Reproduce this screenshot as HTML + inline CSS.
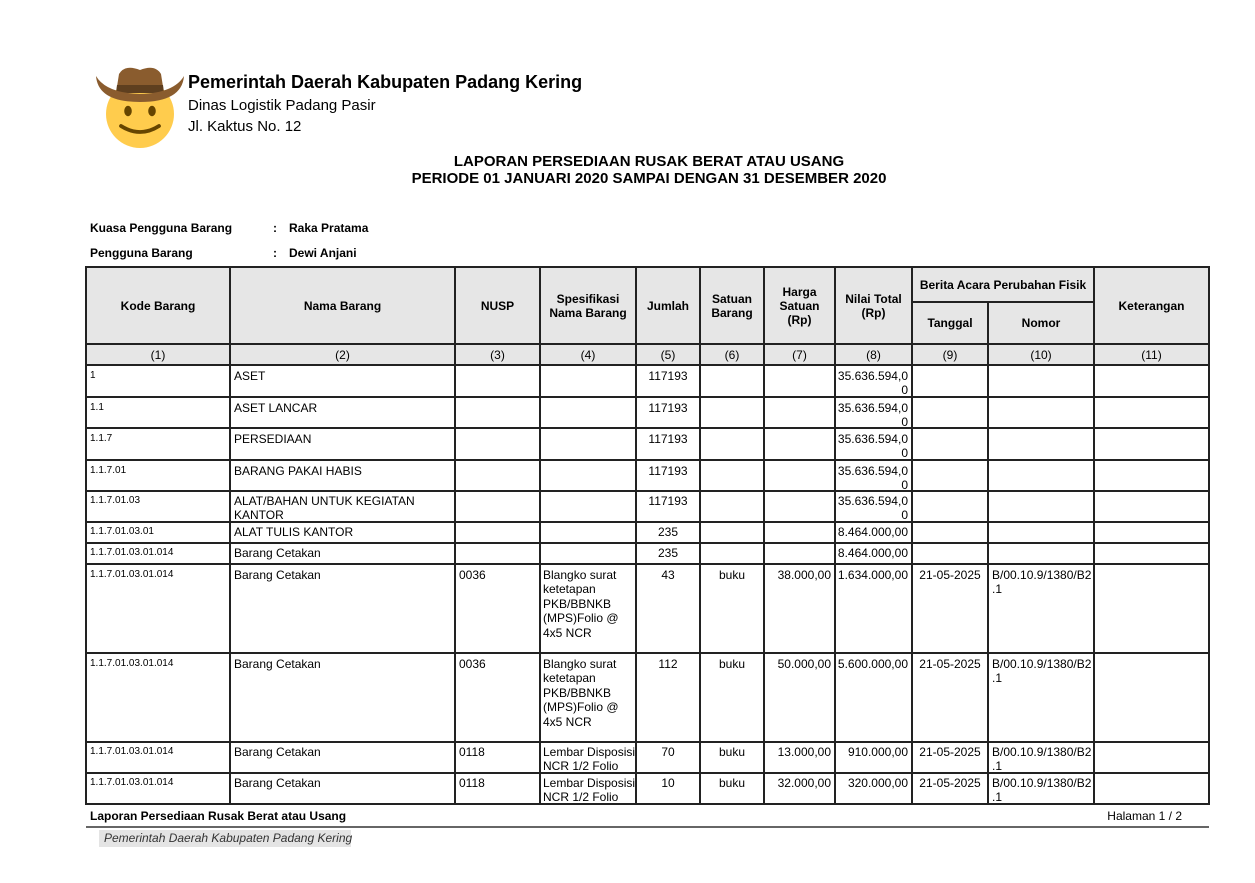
<!DOCTYPE html>
<html>
<head>
<meta charset="utf-8">
<style>
  html,body{margin:0;padding:0;background:#fff;}
  body{width:1255px;height:883px;position:relative;overflow:hidden;font-family:"Liberation Sans",Arial,sans-serif;color:#000;}
  .a{position:absolute;white-space:nowrap;}
  .vl{position:absolute;width:2px;background:#222;}
  .hl{position:absolute;height:2px;background:#222;}
  .h{position:absolute;display:flex;align-items:center;justify-content:center;text-align:center;font-weight:bold;font-size:12px;line-height:14px;white-space:nowrap;}
  .n{position:absolute;display:flex;align-items:center;justify-content:center;font-size:12px;line-height:14px;}
  .t{position:absolute;white-space:nowrap;font-size:12px;line-height:14.4px;}
  .code{font-size:10px;}
  .r{text-align:right;}
  .c{text-align:center;}
</style>
</head>
<body>

<!-- Logo: cowboy emoji -->
<svg class="a" style="left:0;top:0" width="260" height="160" viewBox="0 0 260 160">
  <circle cx="140" cy="114" r="34" fill="#FFCC4D"/>
  <ellipse cx="128" cy="111" rx="3.8" ry="5.2" fill="#664500"/>
  <ellipse cx="152" cy="111" rx="3.8" ry="5.2" fill="#664500"/>
  <path d="M121 126 Q140 138 159 126" stroke="#664500" stroke-width="3.8" fill="none" stroke-linecap="round"/>
  <path d="M116 93 L119 74 Q125 64 140 70 Q155 64 161 74 L164 93 Z" fill="#8A5C2E"/>
  <path d="M117 85 L163 85 L164 93 L116 93 Z" fill="#5E3F1F"/>
  <path d="M96 76 Q106 93 140 94 Q174 93 184 76 Q182 102 140 102 Q98 102 96 76 Z" fill="#8A5C2E"/>
</svg>

<div class="a" style="left:188px;top:72px;font-size:18px;line-height:20px;font-weight:bold;">Pemerintah Daerah Kabupaten Padang Kering</div>
<div class="a" style="left:188px;top:97px;font-size:15px;line-height:17px;">Dinas Logistik Padang Pasir</div>
<div class="a" style="left:188px;top:118px;font-size:15px;line-height:17px;">Jl. Kaktus No. 12</div>

<div class="a" style="left:0;width:1298px;text-align:center;top:154px;font-size:15px;line-height:16px;font-weight:bold;">LAPORAN PERSEDIAAN RUSAK BERAT ATAU USANG</div>
<div class="a" style="left:0;width:1298px;text-align:center;top:171px;font-size:15px;line-height:16px;font-weight:bold;">PERIODE 01 JANUARI 2020 SAMPAI DENGAN 31 DESEMBER 2020</div>

<div class="a" style="left:90px;top:221px;font-size:12px;line-height:14px;font-weight:bold;">Kuasa Pengguna Barang</div>
<div class="a" style="left:273px;top:221px;font-size:12px;line-height:14px;font-weight:bold;">:</div>
<div class="a" style="left:289px;top:221px;font-size:12px;line-height:14px;font-weight:bold;">Raka Pratama</div>
<div class="a" style="left:90px;top:246px;font-size:12px;line-height:14px;font-weight:bold;">Pengguna Barang</div>
<div class="a" style="left:273px;top:246px;font-size:12px;line-height:14px;font-weight:bold;">:</div>
<div class="a" style="left:289px;top:246px;font-size:12px;line-height:14px;font-weight:bold;">Dewi Anjani</div>

<!-- header fill -->
<div class="a" style="left:86px;top:267px;width:1123px;height:98px;background:#e6e6e6;"></div>

<!-- vertical lines -->
<div class="vl" style="left:85px;top:266px;height:539px;"></div>
<div class="vl" style="left:229px;top:266px;height:539px;"></div>
<div class="vl" style="left:454px;top:266px;height:539px;"></div>
<div class="vl" style="left:539px;top:266px;height:539px;"></div>
<div class="vl" style="left:635px;top:266px;height:539px;"></div>
<div class="vl" style="left:699px;top:266px;height:539px;"></div>
<div class="vl" style="left:763px;top:266px;height:539px;"></div>
<div class="vl" style="left:834px;top:266px;height:539px;"></div>
<div class="vl" style="left:911px;top:266px;height:539px;"></div>
<div class="vl" style="left:987px;top:301px;height:504px;"></div>
<div class="vl" style="left:1093px;top:266px;height:539px;"></div>
<div class="vl" style="left:1208px;top:266px;height:539px;"></div>

<!-- horizontal lines -->
<div class="hl" style="left:85px;width:1125px;top:266px;"></div>
<div class="hl" style="left:911px;width:184px;top:301px;"></div>
<div class="hl" style="left:85px;width:1125px;top:343px;"></div>
<div class="hl" style="left:85px;width:1125px;top:364px;"></div>
<div class="hl" style="left:85px;width:1125px;top:396px;"></div>
<div class="hl" style="left:85px;width:1125px;top:427px;"></div>
<div class="hl" style="left:85px;width:1125px;top:459px;"></div>
<div class="hl" style="left:85px;width:1125px;top:490px;"></div>
<div class="hl" style="left:85px;width:1125px;top:521px;"></div>
<div class="hl" style="left:85px;width:1125px;top:542px;"></div>
<div class="hl" style="left:85px;width:1125px;top:563px;"></div>
<div class="hl" style="left:85px;width:1125px;top:652px;"></div>
<div class="hl" style="left:85px;width:1125px;top:741px;"></div>
<div class="hl" style="left:85px;width:1125px;top:772px;"></div>
<div class="hl" style="left:85px;width:1125px;top:803px;"></div>

<!-- header text -->
<div class="h" style="left:87px;top:268px;width:142px;height:75px;">Kode Barang</div>
<div class="h" style="left:231px;top:268px;width:223px;height:75px;">Nama Barang</div>
<div class="h" style="left:456px;top:268px;width:83px;height:75px;">NUSP</div>
<div class="h" style="left:541px;top:268px;width:94px;height:75px;">Spesifikasi<br>Nama Barang</div>
<div class="h" style="left:637px;top:268px;width:62px;height:75px;">Jumlah</div>
<div class="h" style="left:701px;top:268px;width:62px;height:75px;">Satuan<br>Barang</div>
<div class="h" style="left:765px;top:268px;width:69px;height:75px;">Harga<br>Satuan<br>(Rp)</div>
<div class="h" style="left:836px;top:268px;width:75px;height:75px;">Nilai Total<br>(Rp)</div>
<div class="h" style="left:913px;top:268px;width:180px;height:33px;">Berita Acara Perubahan Fisik</div>
<div class="h" style="left:913px;top:303px;width:74px;height:40px;">Tanggal</div>
<div class="h" style="left:989px;top:303px;width:104px;height:40px;">Nomor</div>
<div class="h" style="left:1095px;top:268px;width:113px;height:75px;">Keterangan</div>

<!-- number row -->
<div class="n" style="left:87px;top:345px;width:142px;height:19px;">(1)</div>
<div class="n" style="left:231px;top:345px;width:223px;height:19px;">(2)</div>
<div class="n" style="left:456px;top:345px;width:83px;height:19px;">(3)</div>
<div class="n" style="left:541px;top:345px;width:94px;height:19px;">(4)</div>
<div class="n" style="left:637px;top:345px;width:62px;height:19px;">(5)</div>
<div class="n" style="left:701px;top:345px;width:62px;height:19px;">(6)</div>
<div class="n" style="left:765px;top:345px;width:69px;height:19px;">(7)</div>
<div class="n" style="left:836px;top:345px;width:75px;height:19px;">(8)</div>
<div class="n" style="left:913px;top:345px;width:74px;height:19px;">(9)</div>
<div class="n" style="left:989px;top:345px;width:104px;height:19px;">(10)</div>
<div class="n" style="left:1095px;top:345px;width:113px;height:19px;">(11)</div>

<!-- row 1 -->
<div class="t code" style="left:90px;top:369px;">1</div>
<div class="t" style="left:234px;top:369px;">ASET</div>
<div class="t c" style="left:637px;top:369px;width:62px;">117193</div>
<div class="t r" style="left:836px;top:369px;width:72px;">35.636.594,0<br>0</div>

<!-- row 2 -->
<div class="t code" style="left:90px;top:401px;">1.1</div>
<div class="t" style="left:234px;top:401px;">ASET LANCAR</div>
<div class="t c" style="left:637px;top:401px;width:62px;">117193</div>
<div class="t r" style="left:836px;top:401px;width:72px;">35.636.594,0<br>0</div>

<!-- row 3 -->
<div class="t code" style="left:90px;top:432px;">1.1.7</div>
<div class="t" style="left:234px;top:432px;">PERSEDIAAN</div>
<div class="t c" style="left:637px;top:432px;width:62px;">117193</div>
<div class="t r" style="left:836px;top:432px;width:72px;">35.636.594,0<br>0</div>

<!-- row 4 -->
<div class="t code" style="left:90px;top:464px;">1.1.7.01</div>
<div class="t" style="left:234px;top:464px;">BARANG PAKAI HABIS</div>
<div class="t c" style="left:637px;top:464px;width:62px;">117193</div>
<div class="t r" style="left:836px;top:464px;width:72px;">35.636.594,0<br>0</div>

<!-- row 5 -->
<div class="t code" style="left:90px;top:494px;">1.1.7.01.03</div>
<div class="t" style="left:234px;top:494px;">ALAT/BAHAN UNTUK KEGIATAN<br>KANTOR</div>
<div class="t c" style="left:637px;top:494px;width:62px;">117193</div>
<div class="t r" style="left:836px;top:494px;width:72px;">35.636.594,0<br>0</div>

<!-- row 6 -->
<div class="t code" style="left:90px;top:525px;">1.1.7.01.03.01</div>
<div class="t" style="left:234px;top:525px;">ALAT TULIS KANTOR</div>
<div class="t c" style="left:637px;top:525px;width:62px;">235</div>
<div class="t r" style="left:836px;top:525px;width:72px;">8.464.000,00</div>

<!-- row 7 -->
<div class="t code" style="left:90px;top:546px;">1.1.7.01.03.01.014</div>
<div class="t" style="left:234px;top:546px;">Barang Cetakan</div>
<div class="t c" style="left:637px;top:546px;width:62px;">235</div>
<div class="t r" style="left:836px;top:546px;width:72px;">8.464.000,00</div>

<!-- row 8 -->
<div class="t code" style="left:90px;top:568px;">1.1.7.01.03.01.014</div>
<div class="t" style="left:234px;top:568px;">Barang Cetakan</div>
<div class="t" style="left:459px;top:568px;">0036</div>
<div class="t" style="left:543px;top:568px;">Blangko surat<br>ketetapan<br>PKB/BBNKB<br>(MPS)Folio @<br>4x5 NCR</div>
<div class="t c" style="left:637px;top:568px;width:62px;">43</div>
<div class="t c" style="left:701px;top:568px;width:62px;">buku</div>
<div class="t r" style="left:765px;top:568px;width:66px;">38.000,00</div>
<div class="t r" style="left:836px;top:568px;width:72px;">1.634.000,00</div>
<div class="t c" style="left:913px;top:568px;width:74px;">21-05-2025</div>
<div class="t" style="left:992px;top:568px;">B/00.10.9/1380/B2<br>.1</div>

<!-- row 9 -->
<div class="t code" style="left:90px;top:657px;">1.1.7.01.03.01.014</div>
<div class="t" style="left:234px;top:657px;">Barang Cetakan</div>
<div class="t" style="left:459px;top:657px;">0036</div>
<div class="t" style="left:543px;top:657px;">Blangko surat<br>ketetapan<br>PKB/BBNKB<br>(MPS)Folio @<br>4x5 NCR</div>
<div class="t c" style="left:637px;top:657px;width:62px;">112</div>
<div class="t c" style="left:701px;top:657px;width:62px;">buku</div>
<div class="t r" style="left:765px;top:657px;width:66px;">50.000,00</div>
<div class="t r" style="left:836px;top:657px;width:72px;">5.600.000,00</div>
<div class="t c" style="left:913px;top:657px;width:74px;">21-05-2025</div>
<div class="t" style="left:992px;top:657px;">B/00.10.9/1380/B2<br>.1</div>

<!-- row 10 -->
<div class="t code" style="left:90px;top:745px;">1.1.7.01.03.01.014</div>
<div class="t" style="left:234px;top:745px;">Barang Cetakan</div>
<div class="t" style="left:459px;top:745px;">0118</div>
<div class="t" style="left:543px;top:745px;">Lembar Disposisi<br>NCR 1/2 Folio</div>
<div class="t c" style="left:637px;top:745px;width:62px;">70</div>
<div class="t c" style="left:701px;top:745px;width:62px;">buku</div>
<div class="t r" style="left:765px;top:745px;width:66px;">13.000,00</div>
<div class="t r" style="left:836px;top:745px;width:72px;">910.000,00</div>
<div class="t c" style="left:913px;top:745px;width:74px;">21-05-2025</div>
<div class="t" style="left:992px;top:745px;">B/00.10.9/1380/B2<br>.1</div>

<!-- row 11 -->
<div class="t code" style="left:90px;top:776px;">1.1.7.01.03.01.014</div>
<div class="t" style="left:234px;top:776px;">Barang Cetakan</div>
<div class="t" style="left:459px;top:776px;">0118</div>
<div class="t" style="left:543px;top:776px;">Lembar Disposisi<br>NCR 1/2 Folio</div>
<div class="t c" style="left:637px;top:776px;width:62px;">10</div>
<div class="t c" style="left:701px;top:776px;width:62px;">buku</div>
<div class="t r" style="left:765px;top:776px;width:66px;">32.000,00</div>
<div class="t r" style="left:836px;top:776px;width:72px;">320.000,00</div>
<div class="t c" style="left:913px;top:776px;width:74px;">21-05-2025</div>
<div class="t" style="left:992px;top:776px;">B/00.10.9/1380/B2<br>.1</div>

<!-- footer -->
<div class="a" style="left:90px;top:809px;font-size:12px;line-height:14.4px;font-weight:bold;">Laporan Persediaan Rusak Berat atau Usang</div>
<div class="a" style="left:1000px;width:182px;text-align:right;top:809px;font-size:12px;line-height:14.4px;">Halaman 1 / 2</div>
<div class="a" style="left:86px;top:826px;width:1123px;height:2px;background:#666;"></div>
<div class="a" style="left:99px;top:830px;width:252px;height:17px;background:#e4e4e4;"></div>
<div class="a" style="left:104px;top:831px;font-size:12px;line-height:14.4px;font-style:italic;color:#333;">Pemerintah Daerah Kabupaten Padang Kering</div>

</body>
</html>
